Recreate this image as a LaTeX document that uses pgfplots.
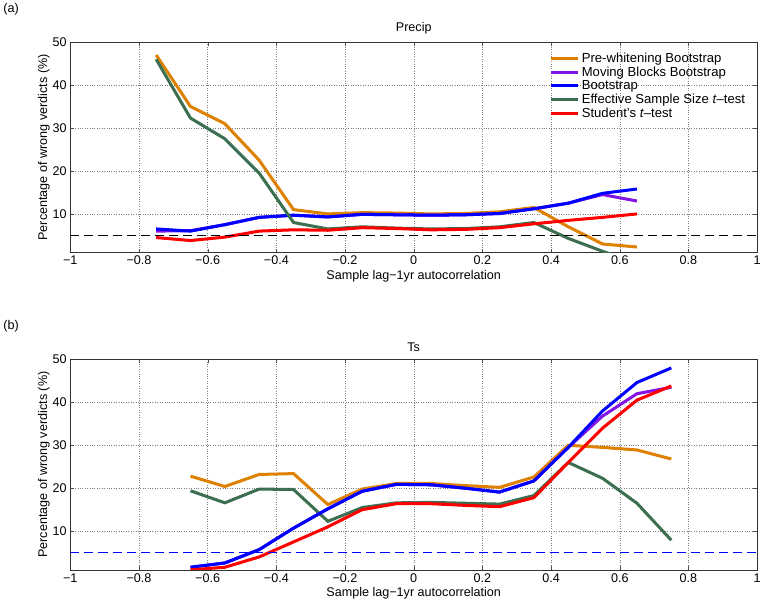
\documentclass[border=0pt]{standalone}
\usepackage{pgfplots}
\pgfplotsset{compat=1.18}
\usepackage{fontspec}
\setmainfont{Liberation Sans}
\definecolor{cor}{RGB}{222,128,0}
\definecolor{cpu}{RGB}{130,20,230}
\definecolor{cbl}{RGB}{0,0,255}
\definecolor{cgr}{RGB}{60,110,80}
\definecolor{cre}{RGB}{255,0,0}
\pgfplotsset{myax/.style={scale only axis, width=682pt, height=209pt,
 xmin=-1,xmax=1,ymin=1,ymax=50, xtick={-1,-0.8,...,1}, ytick={10,20,...,50},
 xticklabels={−1,−0.8,−0.6,−0.4,−0.2,0,0.2,0.4,0.6,0.8,1},
 yticklabel style={/pgf/number format/assume math mode=true},
 tick align=inside, tick style={black!70}, major tick length=4pt,
 grid=major, grid style={dotted, black!50}, axis line style={black!80},
 font=\fontsize{12.5}{14}\selectfont, every axis plot/.append style={line width=3pt},
 xlabel={Sample lag−1yr autocorrelation}, ylabel={Percentage of wrong verdicts (\%)},
 ylabel style={yshift=-4pt}, xlabel style={yshift=2pt},
 title style={yshift=-2pt}, clip=true}}
\begin{document}
\begin{tikzpicture}
\begin{axis}[myax, title={Precip}, name=A,
 legend style={draw=none, fill=none, at={(0.99,0.97)}, anchor=north east, font=\fontsize{13}{14}\selectfont, row sep=-1pt},
 legend image post style={xscale=1.6},
 legend cell align=left]
\addplot[cor] coordinates {(-0.75,47)(-0.65,35)(-0.55,31)(-0.45,22.5)(-0.35,11)(-0.25,10)(-0.15,10.3)(-0.05,10.2)(0.05,10)(0.15,10.1)(0.25,10.5)(0.35,11.5)(0.45,7)(0.55,3)(0.65,2.3)};
\addlegendentry{Pre-whitening Bootstrap}
\addplot[cpu] coordinates {(-0.75,6)(-0.65,6.1)(-0.55,7.5)(-0.45,9.2)(-0.35,9.7)(-0.25,9.3)(-0.15,9.9)(-0.05,9.8)(0.05,9.7)(0.15,9.8)(0.25,10.1)(0.35,11.2)(0.45,12.5)(0.55,14.5)(0.65,13)};
\addlegendentry{Moving Blocks Bootstrap}
\addplot[cbl] coordinates {(-0.75,6.5)(-0.65,6)(-0.55,7.5)(-0.45,9.2)(-0.35,9.7)(-0.25,9.3)(-0.15,9.9)(-0.05,9.8)(0.05,9.7)(0.15,9.8)(0.25,10.1)(0.35,11.2)(0.45,12.5)(0.55,14.8)(0.65,15.8)};
\addlegendentry{Bootstrap}
\addplot[cgr] coordinates {(-0.75,46)(-0.65,32.3)(-0.55,27.5)(-0.45,19.5)(-0.35,8)(-0.25,6.5)(-0.15,7)(-0.05,6.7)(0.05,6.5)(0.15,6.6)(0.25,7)(0.35,8)(0.45,4.3)(0.55,1.3)(0.65,-1.5)};
\addlegendentry{Effective Sample Size \textit{t}–test}
\addplot[cre] coordinates {(-0.75,4.5)(-0.65,3.8)(-0.55,4.6)(-0.45,6)(-0.35,6.3)(-0.25,6.2)(-0.15,6.8)(-0.05,6.6)(0.05,6.3)(0.15,6.4)(0.25,6.8)(0.35,7.7)(0.45,8.5)(0.55,9.2)(0.65,10)};
\addlegendentry{Student's \textit{t}–test}
\addplot[black, line width=0.6pt, dash pattern=on 9pt off 5pt, forget plot] coordinates {(-1,5)(1,5)};
\end{axis}
\node[anchor=north west, font=\fontsize{12.5}{14}\selectfont] at ([xshift=-70pt,yshift=42pt]A.north west) {(a)};
\begin{axis}[myax, title={Ts}, name=B, yshift=-315pt]
\addplot[cor] coordinates {(-0.65,22.8)(-0.55,20.4)(-0.45,23.2)(-0.35,23.4)(-0.25,16.2)(-0.15,19.8)(-0.05,21.1)(0.05,21.1)(0.15,20.6)(0.25,20.2)(0.35,22.6)(0.45,30)(0.55,29.5)(0.65,28.9)(0.75,26.8)};
\addplot[cgr] coordinates {(-0.65,19.4)(-0.55,16.6)(-0.45,19.8)(-0.35,19.7)(-0.25,12.3)(-0.15,15.5)(-0.05,16.6)(0.05,16.7)(0.15,16.5)(0.25,16.3)(0.35,18.3)(0.45,26)(0.55,22.3)(0.65,16.5)(0.75,7.9)};
\addplot[cpu] coordinates {(-0.65,1.6)(-0.55,2.6)(-0.45,5.7)(-0.35,10.7)(-0.25,15.2)(-0.15,19.3)(-0.05,20.9)(0.05,20.8)(0.15,20)(0.25,19.1)(0.35,21.7)(0.45,29.5)(0.55,36.8)(0.65,42)(0.75,43.5)};
\addplot[cbl] coordinates {(-0.65,1.6)(-0.55,2.6)(-0.45,5.7)(-0.35,10.7)(-0.25,15.2)(-0.15,19.3)(-0.05,20.9)(0.05,20.8)(0.15,20)(0.25,19.1)(0.35,21.7)(0.45,29.5)(0.55,38)(0.65,44.6)(0.75,48)};
\addplot[cre] coordinates {(-0.65,1)(-0.55,1.6)(-0.45,4)(-0.35,7.5)(-0.25,11)(-0.15,15)(-0.05,16.4)(0.05,16.4)(0.15,16)(0.25,15.7)(0.35,17.8)(0.45,26)(0.55,34)(0.65,40.5)(0.75,43.8)};
\addplot[color=blue, line width=0.6pt, dash pattern=on 9pt off 5pt] coordinates {(-1,5)(1,5)};
\end{axis}
\node[anchor=north west, font=\fontsize{12.5}{14}\selectfont] at ([xshift=-70pt,yshift=42pt]B.north west) {(b)};
\end{tikzpicture}
\end{document}
